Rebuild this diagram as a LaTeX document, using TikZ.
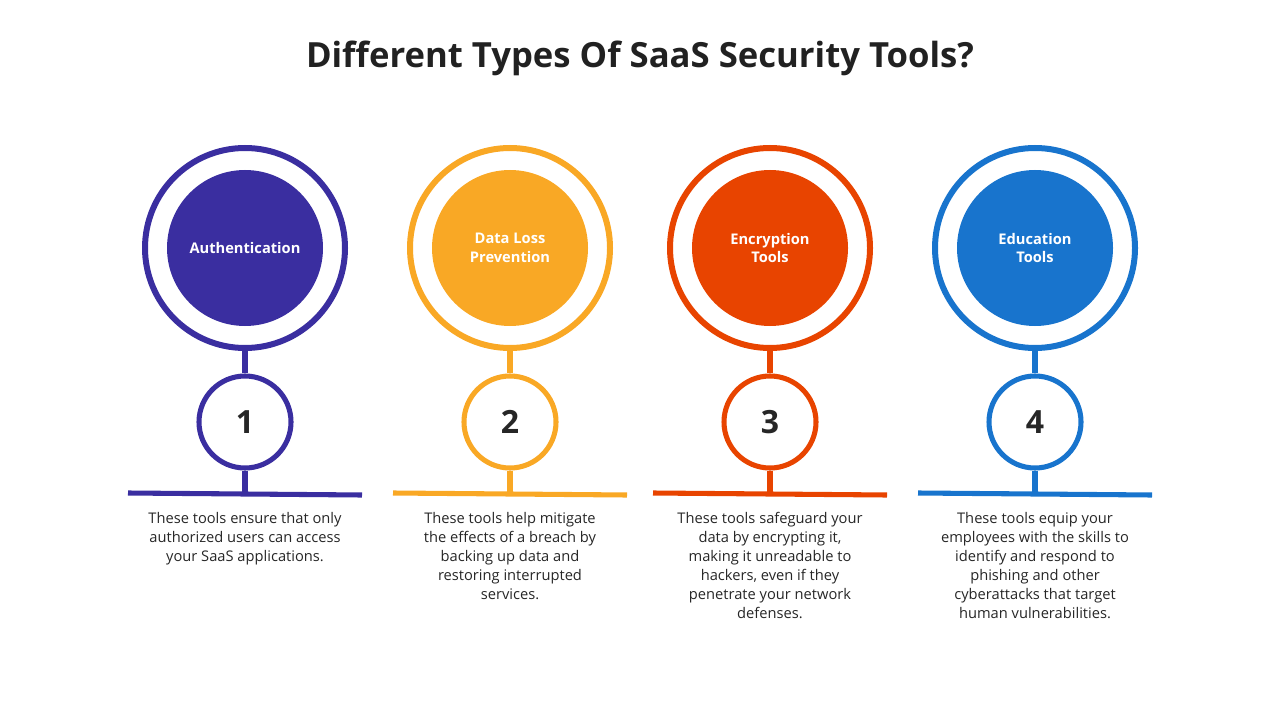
\documentclass[tikz,border=0pt]{standalone}
\usepackage{fontspec}
\setmainfont{Open Sans}
\begin{document}
\begin{tikzpicture}[x=0.75pt,y=-0.75pt,
  ring/.style={draw=#1,line width=4.5pt,circle,minimum size=200*0.75pt,inner sep=0},
  core/.style={fill=#1,circle,minimum size=156*0.75pt,inner sep=0,text=white,font=\bfseries\fontsize{11}{14}\selectfont,align=center},
  num/.style={draw=#1,line width=3.8pt,circle,minimum size=92*0.75pt,inner sep=0,font=\bfseries\fontsize{24}{28}\selectfont,text=black!85},
  stem/.style={draw=#1,line width=3.8pt},
  desc/.style={font=\fontsize{11}{14.2}\selectfont,align=center,text=black!85,anchor=north}]
\useasboundingbox (0,0) rectangle (1280,720);
\node[font=\bfseries\fontsize{26}{30}\selectfont,text=black!87] (title) at (640,58) {Different Types Of SaaS Security Tools?};
\definecolor{c1}{HTML}{3A2EA0}
\definecolor{c2}{HTML}{F9A825}
\definecolor{c3}{HTML}{E84400}
\definecolor{c4}{HTML}{1874CD}
\foreach \x/\c/\lab/\n/\txt in {
 245/c1/Authentication/1/{These tools ensure that only\\authorized users can access\\your SaaS applications.},
 510/c2/{Data Loss\\Prevention}/2/{These tools help mitigate\\the effects of a breach by\\backing up data and\\restoring interrupted\\services.},
 770/c3/{Encryption\\Tools}/3/{These tools safeguard your\\data by encrypting it,\\making it unreadable to\\hackers, even if they\\penetrate your network\\defenses.},
 1035/c4/{Education\\Tools}/4/{These tools equip your\\employees with the skills to\\identify and respond to\\phishing and other\\cyberattacks that target\\human vulnerabilities.}}{
  \node[ring=\c] (r\n) at (\x,248) {};
  \node[core=\c] (k\n) at (\x,248) {\lab};
  \node[num=\c] (n\n) at (\x,422) {\n};
  \coordinate (b\n) at (\x,494);
  \coordinate (l\n) at (\x-117,493);
  \coordinate (e\n) at (\x+117,495);
  \draw[stem=\c] (r\n.south) -- (n\n.north);
  \draw[stem=\c] (n\n.south) -- (b\n);
  \draw[stem=\c] (l\n) -- (e\n);
  \node[desc] (d\n) at (\x,508) {\txt};
}
\end{tikzpicture}
\end{document}
